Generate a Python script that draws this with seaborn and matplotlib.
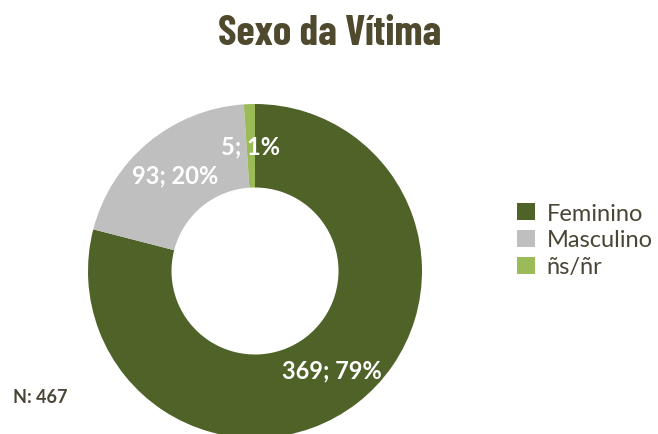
import matplotlib
matplotlib.use("Agg")
import matplotlib.pyplot as plt
import seaborn as sns
from matplotlib.patches import Patch

categories = ["Feminino", "Masculino", "ñs/ñr"]
values = [369, 93, 5]
colors = ["#4F6228", "#BFBFBF", "#9BBB59"]
title = "Sexo da Vítima"
n_label = "N: 467"

sns.set_theme(style="white")
plt.rcParams["font.family"] = ["Lato", "DejaVu Sans"]

fig = plt.figure(figsize=(6.58, 4.35), dpi=100)
W, H = 658, 435
cx, cy, r = 255, 272, 167
ax = fig.add_axes([(cx - r) / W, (H - cy - r) / H, 2 * r / W, 2 * r / H])

total = sum(values)
def fmt(p):
    v = int(round(p * total / 100.0))
    return f"{v}; {p:.0f}%"

wedges, texts, autotexts = ax.pie(
    values, colors=colors, startangle=90, counterclock=False,
    radius=1.0, wedgeprops=dict(width=0.5, edgecolor="none"),
    autopct=fmt, pctdistance=0.75,
    textprops=dict(color="white", fontsize=17, fontweight="bold"),
)
ax.set_xlim(-1, 1)
ax.set_ylim(-1, 1)
ax.set_aspect("equal")
ax.axis("off")

fig.text(330 / W, 1 - 34 / H, title, ha="center", va="center",
         fontsize=30, fontweight="bold", color="#4F4A2E",
         family=["Barlow Condensed", "Asap Condensed", "DejaVu Sans"])
fig.text(13 / W, 1 - 398 / H, n_label, ha="left", va="center",
         fontsize=13, fontweight="bold", color="#4A4535")

handles = [Patch(facecolor=c, edgecolor="none") for c in colors]
fig.legend(handles, categories, loc="center left",
           bbox_to_anchor=(496 / W, 1 - 241 / H), frameon=False,
           fontsize=17, labelcolor="#4A4535", handlelength=0.75,
           handleheight=0.75, handletextpad=0.5, labelspacing=0.25)

fig.savefig("out.png", dpi=100)
